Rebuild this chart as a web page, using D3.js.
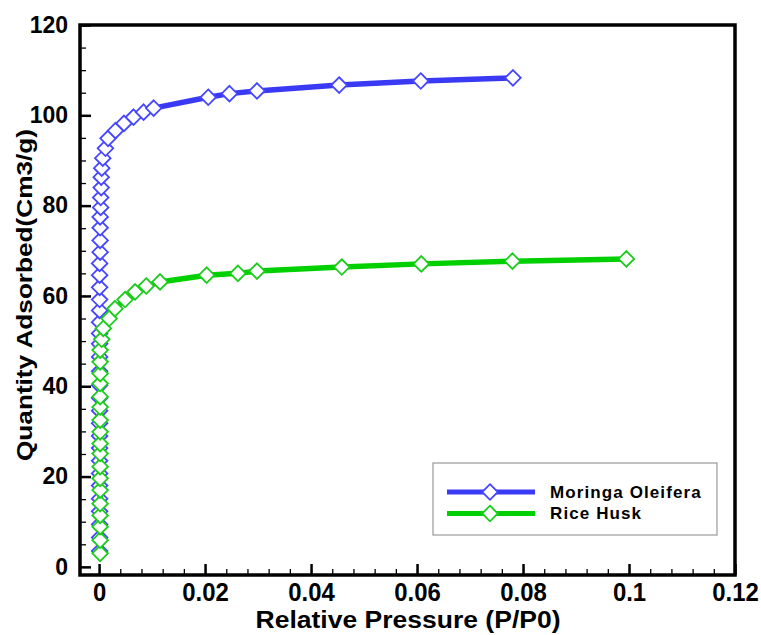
<!DOCTYPE html>
<html>
<head>
<script src="https://cdnjs.cloudflare.com/ajax/libs/d3/7.8.5/d3.min.js"></script>
<style>
  body { margin: 0; background: #fff; }
  text { font-family: "Liberation Sans", Arial, sans-serif; font-weight: bold; }
</style>
</head>
<body>
<div id="chart"></div>
<script>
var w = 761, h = 635;

// Moringa Oleifera isotherm (relative pressure, quantity adsorbed)
var moringaP = [0.0001, 0.0001, 0.0001, 0.0001, 0.0001, 0.0001, 0.0001, 0.0001, 0.0001, 0.0001,
  0.0001, 0.0001, 0.0001, 0.0001, 0.0001, 0.0001, 0.0001, 0.0001, 0.0001, 0.0001,
  0.0001, 0.0001, 0.0001, 0.0001, 0.0002, 0.0002, 0.0002, 0.0002, 0.0003, 0.0003,
  0.0004, 0.0004, 0.0005, 0.0007, 0.0012, 0.0017, 0.0031, 0.0047, 0.0065, 0.0084,
  0.0103, 0.0206, 0.0246, 0.0298, 0.0453, 0.0607, 0.0781];
var moringaQ = [3.5, 6.5, 9.4, 12.3, 15.1, 18.0, 20.7, 23.5, 26.3, 29.0,
  31.8, 34.6, 37.4, 40.2, 43.3, 46.5, 49.4, 51.7, 54.2, 56.8,
  59.2, 61.9, 64.6, 67.2, 69.7, 72.3, 75.1, 77.5, 79.6, 81.8,
  84.0, 86.3, 88.3, 90.5, 92.7, 94.9, 96.6, 98.2, 99.6, 100.7,
  101.6, 104.0, 104.8, 105.4, 106.7, 107.6, 108.3];

// Rice Husk isotherm
var riceP = [0.0002, 0.0002, 0.0002, 0.0002, 0.0002, 0.0002, 0.0002, 0.0002, 0.0002, 0.0002,
  0.0002, 0.0002, 0.0002, 0.0002, 0.0002, 0.0002, 0.0002, 0.0002, 0.0005, 0.0008,
  0.0019, 0.0030, 0.0049, 0.0068, 0.0089, 0.0115, 0.0203, 0.0262, 0.0298, 0.0458,
  0.0608, 0.0780, 0.0995];
var riceQ = [3.0, 5.9, 8.9, 11.4, 14.0, 17.0, 19.6, 22.2, 25.1, 27.3,
  29.9, 32.5, 35.4, 37.7, 40.6, 42.8, 45.4, 48.0, 50.4, 52.8,
  55.0, 57.2, 59.2, 60.9, 62.2, 63.1, 64.6, 65.0, 65.5, 66.4,
  67.1, 67.7, 68.2];

var seriesNames = ["Moringa Oleifera", "Rice Husk"];
var seriesColors = ["#3a3af5", "#00d000"];
var markerColors = ["#4646ff", "#1ccc1c"];

var xTicks = [0, 0.02, 0.04, 0.06, 0.08, 0.1, 0.12];
var xTickLabels = ["0", "0.02", "0.04", "0.06", "0.08", "0.1", "0.12"];
var yTicks = [0, 20, 40, 60, 80, 100, 120];

var pLeft = 80, pRight = 735, pTop = 25, pBottom = 575;

var x = d3.scaleLinear().domain([-0.0036, 0.12]).range([pLeft, pRight]);
var y = d3.scaleLinear().domain([-1.8, 120]).range([pBottom, pTop]);

var svg = d3.select("#chart").append("svg")
  .attr("width", w).attr("height", h);

svg.append("rect").attr("width", w).attr("height", h).attr("fill", "#fff");

// minor + major ticks (inward)
var xMinor = d3.range(0, 0.1201, 0.004);
var yMinor = d3.range(0, 120.01, 5);

var xAxis = d3.axisBottom(x).tickValues(xMinor).tickSize(-6).tickFormat("");
svg.append("g").attr("transform", "translate(0," + pBottom + ")").call(xAxis)
  .call(function(g) { g.select(".domain").remove(); })
  .selectAll("line").attr("stroke", "#000").attr("stroke-width", 1.3);

var xMajor = d3.axisBottom(x).tickValues(xTicks).tickSize(-11).tickPadding(8)
  .tickFormat(function(d, i) { return xTickLabels[i]; });
var gx = svg.append("g").attr("transform", "translate(0," + pBottom + ")").call(xMajor);
gx.select(".domain").remove();
gx.selectAll("line").attr("stroke", "#000").attr("stroke-width", 2.5);
gx.selectAll("text").attr("font-size", 26).attr("fill", "#000")
  .attr("transform", "scale(0.92,1)")
  .attr("font-family", "Liberation Sans, Arial, sans-serif").attr("font-weight", "bold");

var yAxis = d3.axisLeft(y).tickValues(yMinor).tickSize(-6).tickFormat("");
svg.append("g").attr("transform", "translate(" + pLeft + ",0)").call(yAxis)
  .call(function(g) { g.select(".domain").remove(); })
  .selectAll("line").attr("stroke", "#000").attr("stroke-width", 1.3);

var yMajor = d3.axisLeft(y).tickValues(yTicks).tickSize(-11).tickPadding(12);
var gy = svg.append("g").attr("transform", "translate(" + pLeft + ",0)").call(yMajor);
gy.select(".domain").remove();
gy.selectAll("line").attr("stroke", "#000").attr("stroke-width", 2.5);
gy.selectAll("text").attr("font-size", 23).attr("fill", "#000")
  .attr("font-family", "Liberation Sans, Arial, sans-serif").attr("font-weight", "bold");

// frame
svg.append("rect")
  .attr("x", pLeft).attr("y", pTop)
  .attr("width", pRight - pLeft).attr("height", pBottom - pTop)
  .attr("fill", "none").attr("stroke", "#000").attr("stroke-width", 3.5);

// series
var series = [
  { p: moringaP, q: moringaQ },
  { p: riceP, q: riceQ }
];

var line = d3.line().x(function(d) { return x(d[0]); }).y(function(d) { return y(d[1]); });
var diamond = d3.symbol().type(d3.symbolDiamond2).size(155);

series.forEach(function(s, k) {
  var pts = s.p.map(function(p, i) { return [p, s.q[i]]; });
  svg.append("path").datum(pts)
    .attr("d", line)
    .attr("fill", "none")
    .attr("stroke", seriesColors[k])
    .attr("stroke-width", 5.5);
  svg.append("g").selectAll("path").data(pts).enter().append("path")
    .attr("transform", function(d) { return "translate(" + x(d[0]) + "," + y(d[1]) + ")"; })
    .attr("d", diamond)
    .attr("fill", "#fff")
    .attr("stroke", markerColors[k])
    .attr("stroke-width", 1.8);
});

// axis titles
svg.append("text")
  .attr("x", 408).attr("y", 628)
  .attr("text-anchor", "middle")
  .attr("font-size", 23)
  .attr("textLength", 305)
  .attr("lengthAdjust", "spacingAndGlyphs")
  .text("Relative Pressure (P/P0)");

svg.append("text")
  .attr("transform", "translate(32,295) rotate(-90)")
  .attr("text-anchor", "middle")
  .attr("font-size", 22)
  .attr("textLength", 332)
  .attr("lengthAdjust", "spacingAndGlyphs")
  .text("Quantity Adsorbed(Cm3/g)");

// legend
var lg = svg.append("g");
lg.append("rect")
  .attr("x", 433).attr("y", 463).attr("width", 284).attr("height", 72)
  .attr("fill", "#fff").attr("stroke", "#999").attr("stroke-width", 1.2);

seriesNames.forEach(function(name, k) {
  var ly = 492 + k * 21.5;
  lg.append("line")
    .attr("x1", 447).attr("x2", 535).attr("y1", ly).attr("y2", ly)
    .attr("stroke", seriesColors[k]).attr("stroke-width", 5);
  lg.append("path")
    .attr("transform", "translate(490," + ly + ")")
    .attr("d", diamond)
    .attr("fill", "#fff")
    .attr("stroke", markerColors[k])
    .attr("stroke-width", 1.8);
  lg.append("text")
    .attr("x", 550).attr("y", ly + 5.5)
    .attr("font-size", 17)
    .attr("letter-spacing", 1.1)
    .text(name);
});
</script>
</body>
</html>
